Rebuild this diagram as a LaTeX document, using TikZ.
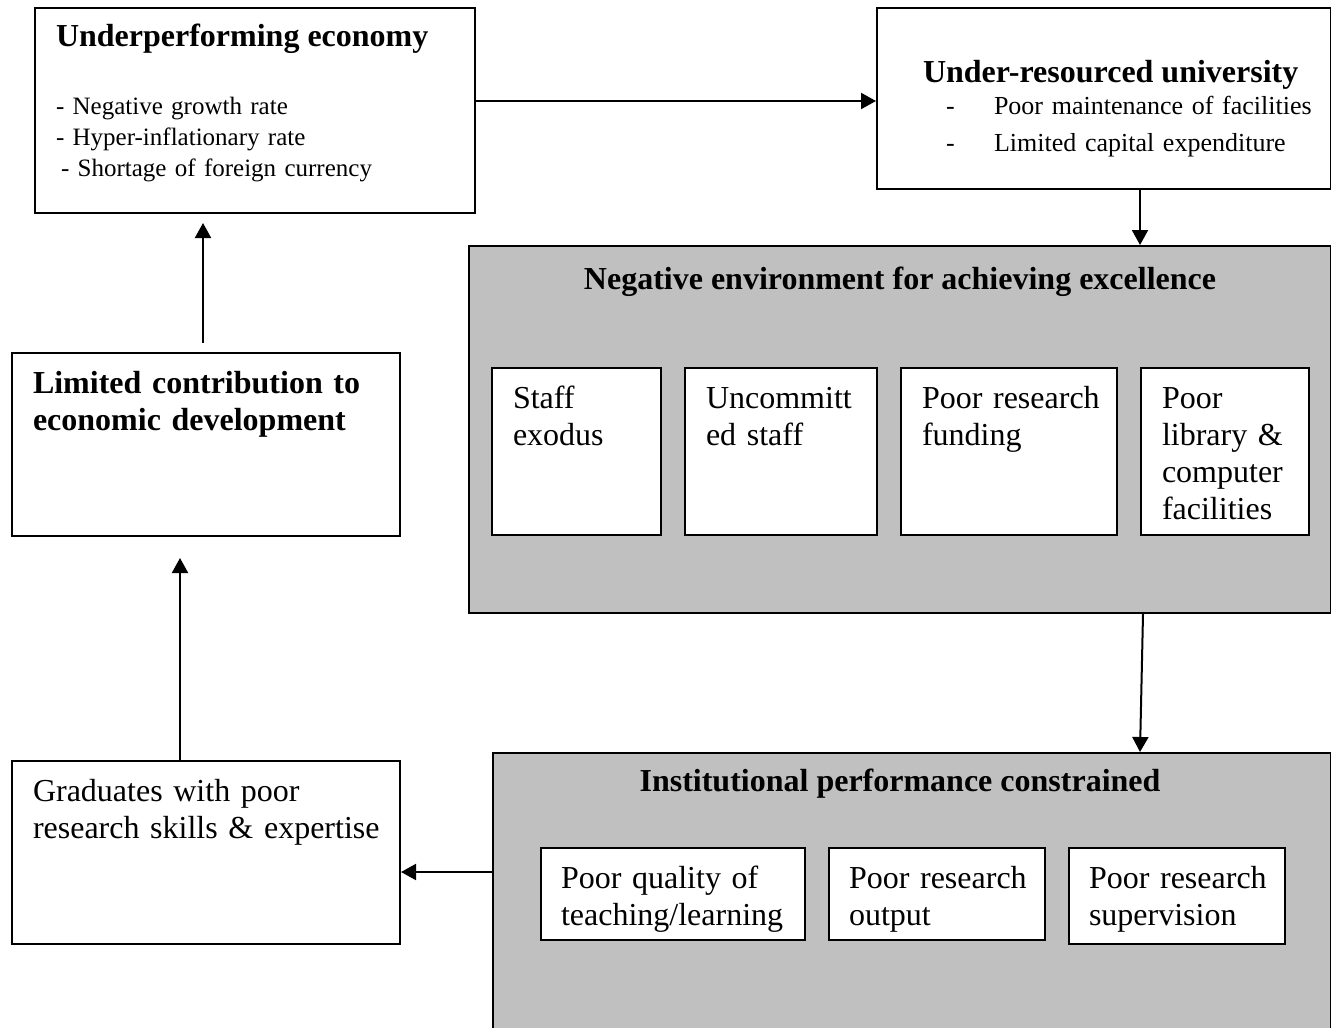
\documentclass[tikz,border=0pt]{standalone}
\usepackage{fontspec}
\setmainfont{Liberation Serif}
\usetikzlibrary{arrows.meta}
\definecolor{panelgray}{RGB}{192,192,192}

\begin{document}
\begin{tikzpicture}[x=0.5pt, y=-0.5pt, line width=1pt,
    box/.style = {draw, rectangle, anchor=north west, inner sep=0pt},
    panel/.style = {box, fill=panelgray},
    txt/.style = {anchor=base west, inner sep=0pt, align=left, text width=#1,
                  font=\fontsize{16}{18.5}\selectfont},
    txt/.default = 120pt,
    ttl/.style = {anchor=base, inner sep=0pt, font=\fontsize{16}{18.5}\selectfont\bfseries},
    arr/.style = {-{Triangle[length=7.5pt,width=8pt]}}]
    \clip (0,0) rectangle (1331,1027);
    % outer boxes
    \node[box, minimum width=220pt, minimum height=102.5pt] (eco) at (34,7) {};
    \node[box, minimum width=227pt, minimum height=90.5pt] (univ) at (876,7) {};
    \node[panel, minimum width=431pt, minimum height=183.5pt] (neg) at (468,245) {};
    \node[panel, minimum width=419pt, minimum height=150pt] (ipc) at (492,752) {};
    \node[box, minimum width=194pt, minimum height=91.5pt] (lim) at (11,352) {};
    \node[box, minimum width=194pt, minimum height=91.5pt] (grad) at (11,760) {};
    % inner boxes
    \node[box, fill=white, minimum width=84.5pt, minimum height=83.5pt] (stf) at (491,367) {};
    \node[box, fill=white, minimum width=96pt, minimum height=83.5pt] (unc) at (684,367) {};
    \node[box, fill=white, minimum width=108pt, minimum height=83.5pt] (fund) at (900,367) {};
    \node[box, fill=white, minimum width=84pt, minimum height=83.5pt] (lib) at (1140,367) {};
    \node[box, fill=white, minimum width=132pt, minimum height=46pt] (qual) at (540,847) {};
    \node[box, fill=white, minimum width=108pt, minimum height=46pt] (outp) at (828,847) {};
    \node[box, fill=white, minimum width=108pt, minimum height=48pt] (sup) at (1068,847) {};
    % texts
    \node[anchor=base west, inner sep=0pt, font=\fontsize{16}{18.5}\selectfont\bfseries] (ecoT) at (55,47) {Underperforming economy};
    \node[txt=200pt, font=\fontsize{12.5}{15.5}\selectfont] (ecoL) at (55,115)
        {- Negative growth rate\\- Hyper-inflationary rate\\\hspace*{2.5pt}- Shortage of foreign currency};
    \node[anchor=base west, inner sep=0pt, font=\fontsize{16}{18.5}\selectfont\bfseries] (univT) at (922,83) {Under-resourced university};
    \node[txt=200pt, font=\fontsize{13}{18.5}\selectfont] (univL) at (945,115)
        {\makebox[24pt][l]{-}Poor maintenance of facilities\\\makebox[24pt][l]{-}Limited capital expenditure};
    \node[ttl] (negT) at (900,289) {Negative environment for achieving excellence};
    \node[ttl] (ipcT) at (900,791) {Institutional performance constrained};
    \node[txt] at (512,408) {Staff\\exodus};
    \node[txt] at (705,408) {Uncommitt\\ed staff};
    \node[txt] at (921,408) {Poor research\\funding};
    \node[txt] at (1161,408) {Poor\\library \&\\computer\\facilities};
    \node[txt=130pt] at (560,888) {Poor quality of\\teaching/learning};
    \node[txt] at (848,888) {Poor research\\output};
    \node[txt] at (1088,888) {Poor research\\supervision};
    \node[txt=190pt, font=\fontsize{16}{18.5}\selectfont\bfseries] at (32,393) {Limited contribution to\\economic development};
    \node[txt=190pt] at (32,801) {Graduates with poor\\research skills \& expertise};
    % free arrow ends
    \coordinate (limTip) at (180,558);
    \coordinate (ecoTip) at (203,223);
    \coordinate (ecoTail) at (203,343);
    % arrows
    \draw[arr] (eco.east |- 0,101) -- (univ.west |- 0,101);
    \draw[arr] (univ.south -| 1140,0) -- (neg.north -| 1140,0);
    \draw[arr] (neg.south -| 1143,0) -- (ipc.north -| 1140,0);
    \draw[arr] (ipc.west |- 0,872) -- (grad.east |- 0,872);
    \draw[arr] (grad.north -| limTip) -- (limTip);
    \draw[arr] (ecoTail) -- (ecoTip);
\end{tikzpicture}
\end{document}
